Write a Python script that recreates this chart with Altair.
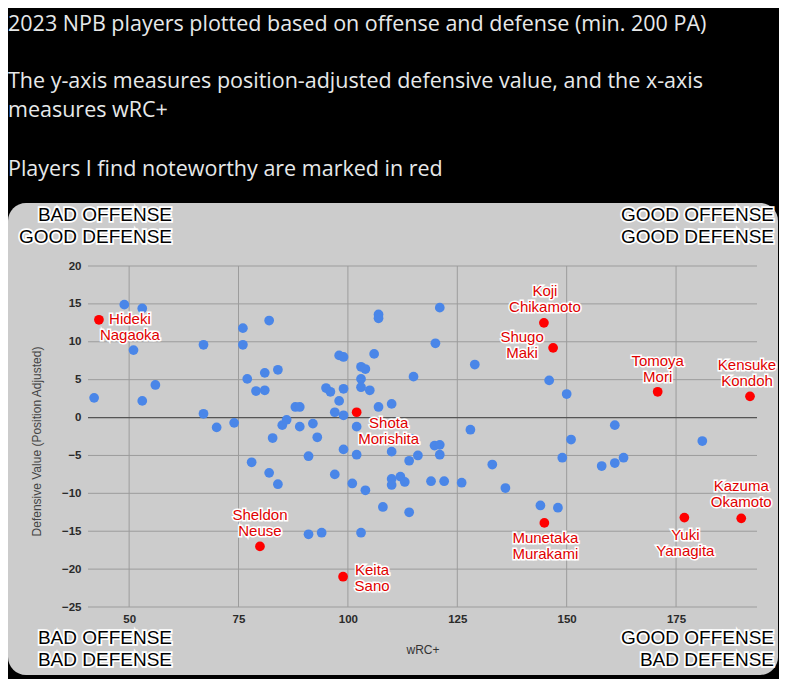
import altair as alt
import pandas as pd

# ---------------- data ----------------
intro_par1 = ["2023 NPB players plotted based on offense and defense (min. 200 PA)"]
intro_par2 = ["The y-axis measures position-adjusted defensive value, and the x-axis",
              "measures wRC+"]
intro_par3 = ["Players I find noteworthy are marked in red"]

quad_top_left = ["BAD OFFENSE", "GOOD DEFENSE"]
quad_top_right = ["GOOD OFFENSE", "GOOD DEFENSE"]
quad_bottom_left = ["BAD OFFENSE", "BAD DEFENSE"]
quad_bottom_right = ["GOOD OFFENSE", "BAD DEFENSE"]

x_ticks = [50, 75, 100, 125, 150, 175]
y_ticks = [-25, -20, -15, -10, -5, 0, 5, 10, 15, 20]

blue_wrc = [42, 48.9, 53, 51, 56, 53, 67, 67, 70, 74,
            76, 76, 77, 79, 81, 81, 84, 82, 82.8, 85,
            86, 88, 89, 89, 92, 93, 95, 96, 98, 97,
            99, 99, 98, 99, 102, 103, 104, 103, 103, 105,
            107, 110, 106, 107, 107, 121, 120, 115, 128, 99,
            102, 91, 110, 114, 116, 119.8, 121, 121, 82, 84,
            97, 101, 104, 110, 110, 112, 113, 119, 122, 126,
            108, 114, 91, 94, 103, 78, 129, 146, 150, 161,
            151, 181, 149, 133, 158, 161, 163, 136, 144, 148,
            114.5]
blue_def = [2.6, 14.9, 14.4, 8.9, 4.3, 2.2, 9.6, 0.5, -1.3, -0.7,
            11.8, 9.6, 5.1, 3.5, 3.6, 5.9, 6.3, 12.8, -2.7, -1.0,
            -0.3, 1.4, 1.4, -1.2, -0.8, -2.6, 3.9, 3.4, 2.2, 0.7,
            0.3, 3.8, 8.2, 8.0, -1.2, 6.7, 6.4, 5.1, 4.0, 3.6,
            1.4, 1.8, 8.4, 13.6, 13.1, 14.5, 9.8, 5.4, -1.6, -4.2,
            -4.9, -5.1, -4.5, -5.7, -5.0, -3.7, -3.6, -4.9, -7.3, -8.8,
            -7.5, -8.7, -9.6, -8.1, -8.9, -7.8, -8.5, -8.4, -8.4, -8.6,
            -11.8, -12.5, -15.4, -15.2, -15.2, -5.9, 7.0, 4.9, 3.1, -1.0,
            -2.9, -3.1, -5.3, -6.2, -6.4, -6.0, -5.3, -9.3, -11.6, -11.9,
            -2.8]

red_names = ["Hideki Nagaoka", "Koji Chikamoto", "Shugo Maki", "Tomoya Mori",
             "Kensuke Kondoh", "Shota Morishita", "Sheldon Neuse", "Keita Sano",
             "Munetaka Murakami", "Yuki Yanagita", "Kazuma Okamoto"]
red_wrc = [43.1, 144.8, 146.9, 170.8, 191.9, 102.0, 79.9, 98.9, 144.9, 176.9, 189.9]
red_def = [12.9, 12.5, 9.2, 3.4, 2.8, 0.7, -17.0, -21.0, -13.9, -13.2, -13.3]

# label placement (pixel offset of the first label line from its point) - styling only
label_dx = [31, 1, -31, 0, -3, 32, 0, 29, 1, 1, 0]
label_dy = [-1, -31.6, -11, -30.3, -31.3, 10.3, -31, -6.3, 15, 17.7, -32]

# ---------------- chart ----------------
FONT = "Liberation Sans"
PLOT_W, PLOT_H = 669, 341
X_DOMAIN = [40.6, 193.5]
Y_DOMAIN = [-25, 20]
GRID = "#9c9c9c"

blue_df = pd.DataFrame({"wrc": blue_wrc, "def": blue_def})
red_df = pd.DataFrame({"wrc": red_wrc, "def": red_def, "name": red_names})
xt_df = pd.DataFrame({"wrc": x_ticks})
yt_df = pd.DataFrame({"def": y_ticks})
one = pd.DataFrame({"k": [0]})

xscale = alt.Scale(domain=X_DOMAIN, nice=False, zero=False)
yscale = alt.Scale(domain=Y_DOMAIN, nice=False, zero=False)

x_axis = alt.Axis(values=x_ticks, grid=False, zindex=2, labelOverlap=False,
                  domain=False, ticks=False, tickSize=0, labelPadding=6,
                  labelFont=FONT, labelFontSize=11.5, labelFontWeight="bold",
                  labelColor="#2a2a2a", title="wRC+", titleFont=FONT,
                  titleFontSize=12, titleFontWeight="normal", titleColor="#333333",
                  titleY=42, titleBaseline="middle")
y_axis = alt.Axis(values=y_ticks, grid=False, zindex=2, labelOverlap=False,
                  domain=False, ticks=False, tickSize=0, labelPadding=7,
                  labelFont=FONT, labelFontSize=11.5, labelFontWeight="bold",
                  labelColor="#2a2a2a", title="Defensive Value (Position Adjusted)",
                  titleFont=FONT, titleFontSize=12, titleFontWeight="normal",
                  titleColor="#444444", titleX=-52, titleY=175,
                  titleBaseline="middle", titleAlign="center")


def X(field="wrc:Q"):
    return alt.X(field, scale=xscale, axis=x_axis)


def Y(field="def:Q"):
    return alt.Y(field, scale=yscale, axis=y_axis)


panel = alt.Chart(one).mark_rect(color="#cccccc", cornerRadius=18).encode(
    x=alt.value(-80), x2=alt.value(690), y=alt.value(-63), y2=alt.value(409))

layers = [panel]
for par, py in [(intro_par1, -241), (intro_par2, -184), (intro_par3, -96)]:
    layers.append(alt.Chart(one).mark_text(
        text=par, align="left", baseline="middle", font="Open Sans",
        fontSize=21.5, lineHeight=29, color="#e7e9ea").encode(
        x=alt.value(-80), y=alt.value(py)))

vgrid = alt.Chart(xt_df).mark_rule(color=GRID, strokeWidth=1).encode(x=X())
hgrid = alt.Chart(yt_df).mark_rule(color=GRID, strokeWidth=1).encode(y=Y())
zero = alt.Chart(one).mark_rule(color="#555555", strokeWidth=1.3).encode(
    y=alt.datum(0, scale=yscale, axis=y_axis))

blue = alt.Chart(blue_df).mark_circle(size=95, opacity=1, color="#4a86e8").encode(
    x=X(), y=Y())
red = alt.Chart(red_df).mark_circle(size=95, opacity=1, color="#ff0000").encode(
    x=X(), y=Y())

layers += [vgrid, hgrid, zero, blue, red]

for nm, xv, yv, dx, dy in zip(red_names, red_wrc, red_def, label_dx, label_dy):
    d = pd.DataFrame({"wrc": [xv], "def": [yv]})
    lines = nm.split(" ")
    common = dict(text=lines, align="center", baseline="middle", font=FONT,
                  fontSize=15, lineHeight=16, dx=dx, dy=dy)
    layers.append(alt.Chart(d).mark_text(stroke="white", strokeWidth=3,
                                         fill="white", **common).encode(x=X(), y=Y()))
    layers.append(alt.Chart(d).mark_text(fill="#e00000", **common).encode(x=X(), y=Y()))

quads = [(quad_top_left, 84, -51), (quad_top_right, 686, -51),
         (quad_bottom_left, 84, 372), (quad_bottom_right, 686, 372)]
for lines, qx, qy in quads:
    common = dict(text=lines, align="right", baseline="middle", font=FONT,
                  fontSize=19, lineHeight=21.7)
    layers.append(alt.Chart(one).mark_text(stroke="white", strokeWidth=3.5, fill="white",
                                           **common).encode(x=alt.value(qx), y=alt.value(qy)))
    layers.append(alt.Chart(one).mark_text(fill="#000000", **common).encode(
        x=alt.value(qx), y=alt.value(qy)))

chart = alt.layer(*layers).properties(
    width=PLOT_W, height=PLOT_H,
    background="#000000",
    autosize=alt.AutoSizeParams(type="none"),
    padding={"left": 80, "top": 258, "right": 22, "bottom": 72},
).configure_view(stroke=None, fill=None).configure_axis(labelOverlap=False)

chart.save("out.html", embed_options={"renderer": "svg", "actions": False})
